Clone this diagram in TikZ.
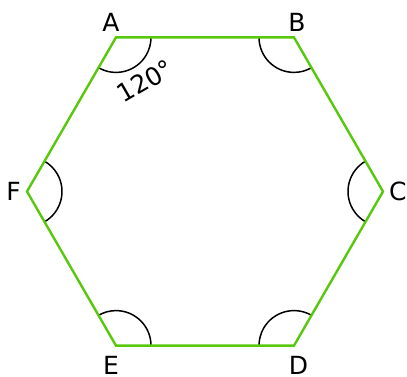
\documentclass[tikz,border=0pt]{standalone}
\usepackage{fontspec}
\setmainfont{DejaVu Sans}
\usepackage{xcolor}
\definecolor{hexgreen}{RGB}{88,200,12}
\usetikzlibrary{positioning}

\begin{document}
\begin{tikzpicture}[x=1pt, y=1pt,
    side/.style={draw=hexgreen, line width=2.4pt, line join=miter},
    angarc/.style={draw=black, line width=1.5pt},
    vlabel/.style={inner sep=0pt, font=\fontsize{25}{30}\selectfont}
  ]
    \useasboundingbox (0,0) rectangle (407,376);

    % Vertices
    \coordinate (A) at (116,338.6);
    \coordinate (B) at (294,338.6);
    \coordinate (C) at (383,184.5);
    \coordinate (D) at (294,30.4);
    \coordinate (E) at (116,30.4);
    \coordinate (F) at (27,184.5);

    % Angle arcs
    \foreach \v/\a in {A/120, B/60, C/0, D/-60, E/-120, F/180}
      \draw[angarc] (\v) ++(\a+120:35) arc[start angle=\a+120, end angle=\a+240, radius=35];

    % Sides
    \draw[side] (A) -- (B) -- (C) -- (D) -- (E) -- (F) -- cycle;

    % Vertex labels
    \node[vlabel, above=6pt of A, xshift=-5pt] (la) {A};
    \node[vlabel, above=6pt of B, xshift=3pt] (lb) {B};
    \node[vlabel, right=6pt of C] (lc) {C};
    \node[vlabel, below=10pt of D, xshift=4.5pt] (ld) {D};
    \node[vlabel, below=10pt of E, xshift=-5pt] (le) {E};
    \node[vlabel, left=6pt of F] (lf) {F};

    % Angle value
    \node[vlabel, rotate=30] (ang) at (145,295) {120°};
  \end{tikzpicture}
\end{document}
